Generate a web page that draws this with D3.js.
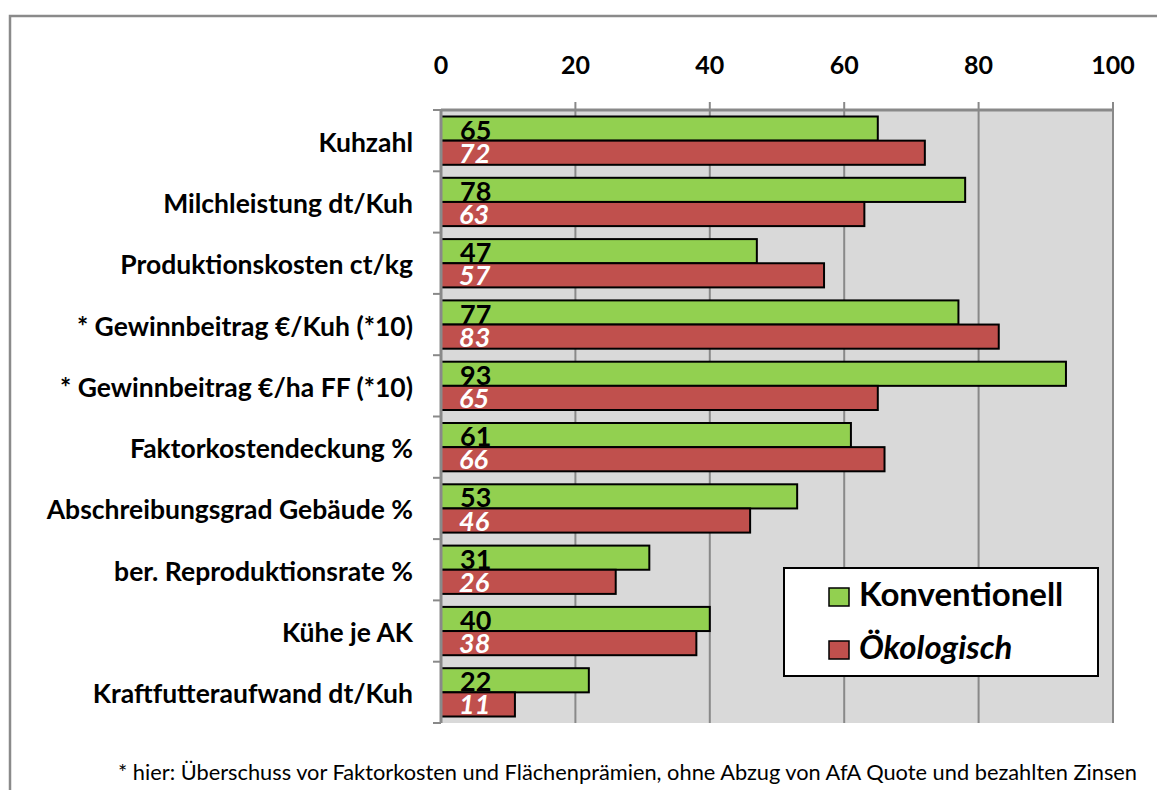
<!DOCTYPE html>
<html>
<head>
<meta charset="utf-8">
<script src="https://cdn.jsdelivr.net/npm/d3@7"></script>
<style>
  body { margin: 0; background: #fff; }
  svg text { font-family: Lato, "Open Sans", sans-serif; }
</style>
</head>
<body>
<div id="chart"></div>
<script>
var categories = [
  "Kuhzahl",
  "Milchleistung dt/Kuh",
  "Produktionskosten ct/kg",
  "* Gewinnbeitrag €/Kuh (*10)",
  "* Gewinnbeitrag €/ha FF (*10)",
  "Faktorkostendeckung %",
  "Abschreibungsgrad Gebäude %",
  "ber. Reproduktionsrate %",
  "Kühe je AK",
  "Kraftfutteraufwand dt/Kuh"
];
var konventionell = [65, 78, 47, 77, 93, 61, 53, 31, 40, 22];
var oekologisch  = [72, 63, 57, 83, 65, 66, 46, 26, 38, 11];
var xTicks = [0, 20, 40, 60, 80, 100];
var seriesNames = ["Konventionell", "Ökologisch"];
var footnote = "* hier: Überschuss vor Faktorkosten und Flächenprämien, ohne Abzug von AfA Quote und bezahlten Zinsen";

(function() {
  var W = 1157, H = 790;
  var pLeft = 441, pRight = 1113, pTop = 110, pBottom = 723;
  var green = "#92D050", red = "#C0504D", gridCol = "#898989";

  var svg = d3.select("#chart").append("svg")
    .attr("width", W).attr("height", H);

  // outer chart border (clipped at right / bottom like the original)
  svg.append("rect")
    .attr("x", 10).attr("y", 16).attr("width", 1200).attr("height", 900)
    .attr("fill", "none").attr("stroke", "#8a8a8a").attr("stroke-width", 2.5);

  var x = d3.scaleLinear().domain([0, 100]).range([pLeft, pRight]);
  var y = d3.scaleBand().domain(categories).range([pTop, pBottom]);
  var sub = d3.scaleBand().domain(["k", "o"])
    .range([6.5, y.bandwidth() - 6.5]);

  // plot background
  svg.append("rect")
    .attr("x", pLeft).attr("y", pTop)
    .attr("width", pRight - pLeft).attr("height", pBottom - pTop)
    .attr("fill", "#D9D9D9");

  // gridlines
  svg.selectAll(".grid").data(xTicks.slice(1)).enter().append("line")
    .attr("class", "grid")
    .attr("x1", d => x(d)).attr("x2", d => x(d))
    .attr("y1", pTop - 8).attr("y2", pBottom)
    .attr("stroke", gridCol).attr("stroke-width", 2);

  // top axis line
  svg.append("line")
    .attr("x1", pLeft).attr("x2", pRight).attr("y1", pTop).attr("y2", pTop)
    .attr("stroke", gridCol).attr("stroke-width", 3);

  // tick labels
  svg.selectAll(".xlab").data(xTicks).enter().append("text")
    .attr("x", d => x(d)).attr("y", 74)
    .attr("text-anchor", "middle")
    .attr("font-size", 25).attr("font-weight", "bold")
    .text(d => d);

  // bars
  var groups = svg.selectAll(".cat").data(categories).enter().append("g")
    .attr("transform", d => "translate(0," + y(d) + ")");

  groups.append("rect")
    .attr("x", x(0)).attr("y", sub("k"))
    .attr("width", (d, i) => x(konventionell[i]) - x(0))
    .attr("height", sub.bandwidth())
    .attr("fill", green).attr("stroke", "#000").attr("stroke-width", 2);

  groups.append("rect")
    .attr("x", x(0)).attr("y", sub("o"))
    .attr("width", (d, i) => x(oekologisch[i]) - x(0))
    .attr("height", sub.bandwidth())
    .attr("fill", red).attr("stroke", "#000").attr("stroke-width", 2);

  groups.append("text")
    .attr("x", x(0) + 19).attr("y", sub("k") + sub.bandwidth() - 1)
    .attr("font-size", 27).attr("font-weight", "bold").attr("fill", "#000")
    .text((d, i) => konventionell[i]);

  groups.append("text")
    .attr("x", x(0) + 18).attr("y", sub("o") + sub.bandwidth() - 2)
    .attr("font-size", 27).attr("font-weight", "bold").attr("font-style", "italic")
    .attr("fill", "#fff")
    .text((d, i) => oekologisch[i]);

  // left axis
  svg.append("line")
    .attr("x1", pLeft).attr("x2", pLeft).attr("y1", pTop).attr("y2", pBottom)
    .attr("stroke", gridCol).attr("stroke-width", 3);

  svg.selectAll(".ytick").data(d3.range(categories.length + 1)).enter().append("line")
    .attr("x1", pLeft - 8).attr("x2", pLeft)
    .attr("y1", i => pTop + i * y.bandwidth()).attr("y2", i => pTop + i * y.bandwidth())
    .attr("stroke", gridCol).attr("stroke-width", 2);

  svg.selectAll(".ylab").data(categories).enter().append("text")
    .attr("x", 413).attr("y", d => y(d) + y.bandwidth() / 2 + 11)
    .attr("text-anchor", "end")
    .attr("font-size", 26.5).attr("font-weight", "bold")
    .text(d => d);

  // legend
  var lg = svg.append("g");
  lg.append("rect")
    .attr("x", 784).attr("y", 568).attr("width", 314).attr("height", 108)
    .attr("fill", "#fff").attr("stroke", "#000").attr("stroke-width", 2);
  var legendColors = [green, red];
  seriesNames.forEach(function(name, i) {
    lg.append("rect")
      .attr("x", 829).attr("y", 588 + i * 53).attr("width", 20).attr("height", 18)
      .attr("fill", legendColors[i]).attr("stroke", "#000").attr("stroke-width", 1.5);
    lg.append("text")
      .attr("x", 859).attr("y", 606 + i * 53)
      .attr("font-size", 33).attr("font-weight", "bold")
      .attr("font-style", i === 1 ? "italic" : "normal")
      .text(name);
  });

  // footnote
  svg.append("text")
    .attr("x", 1137).attr("y", 780)
    .attr("text-anchor", "end")
    .attr("font-size", 21.8)
    .text(footnote);
})();
</script>
</body>
</html>
